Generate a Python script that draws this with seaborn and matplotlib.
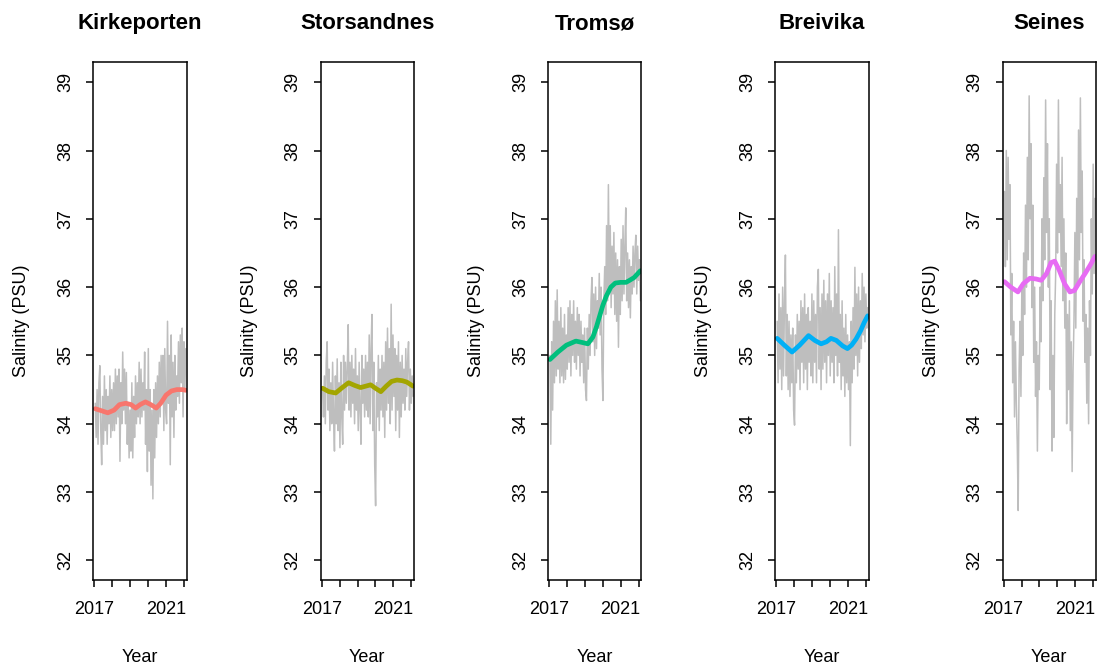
import numpy as np
import pandas as pd
import matplotlib
matplotlib.use("Agg")
import matplotlib.pyplot as plt
import seaborn as sns

# ---- data -------------------------------------------------------------
stations = ["Kirkeporten", "Storsandnes", "Tromsø", "Breivika", "Seines"]
colors = ["#F8766D", "#A3A500", "#00BF7D", "#00B0F6", "#E76BF3"]

# sampling dates (decimal years) of the raw salinity records
n_obs = 100
obs_years = np.linspace(2017.05, 2022.10, n_obs)

raw_kirkeporten = [
    34.3, 33.8, 34.5, 33.7, 34.6, 34.85, 33.9, 33.4, 34.4, 33.7,
    34.7, 33.9, 34.5, 33.7, 34.4, 34.0, 34.7, 33.8, 34.5, 33.9,
    34.6, 33.9, 34.8, 34.0, 34.7, 34.1, 34.8, 33.45, 34.6, 34.0,
    35.05, 34.2, 34.8, 34.0, 34.75, 33.7, 34.3, 33.5, 34.2, 33.6,
    34.6, 33.5, 34.4, 33.8, 34.7, 34.0, 34.6, 34.1, 34.9, 34.0,
    34.8, 34.1, 34.6, 34.2, 35.05, 33.7, 34.5, 33.3, 35.1, 33.6,
    34.5, 33.1, 34.2, 32.9, 34.5, 33.5, 34.6, 33.8, 34.7, 34.0,
    34.9, 34.1, 35.0, 34.3, 35.0, 33.9, 35.1, 34.2, 34.0, 35.5,
    34.3, 35.0, 33.4, 35.3, 34.1, 34.9, 33.8, 35.0, 34.2, 34.7,
    34.4, 35.2, 34.3, 35.3, 34.6, 35.4, 34.1, 35.2, 34.5, 35.1,
]
raw_storsandnes = [
    34.5, 34.1, 34.7, 34.0, 34.9, 35.2, 34.2, 34.8, 33.9, 34.6,
    34.0, 34.9, 34.1, 33.6, 34.7, 34.0, 34.95, 33.9, 34.6, 33.65,
    34.9, 34.1, 33.7, 35.0, 34.2, 34.9, 34.3, 34.8, 35.45, 34.2,
    34.9, 34.1, 35.0, 34.3, 34.8, 34.0, 35.1, 34.2, 34.7, 33.9,
    34.9, 34.2, 33.7, 35.0, 34.3, 34.8, 34.1, 35.0, 34.2, 34.9,
    34.1, 35.3, 34.0, 35.1, 35.6, 33.9, 34.9, 33.4, 32.8, 34.6,
    34.1, 35.0, 33.9, 34.8, 34.2, 35.0, 34.1, 34.9, 33.8, 35.2,
    34.2, 35.4, 34.3, 35.1, 34.0, 35.75, 34.2, 35.3, 34.4, 35.1,
    33.9, 35.0, 34.2, 35.2, 33.8, 34.9, 34.1, 35.0, 34.3, 34.8,
    34.2, 35.1, 34.4, 34.9, 35.2, 34.2, 34.8, 34.3, 34.7, 34.4,
]
raw_tromso = [
    35.0, 33.7, 35.2, 34.2, 35.5, 34.6, 35.8, 34.7, 35.96, 34.8,
    35.5, 34.6, 35.7, 34.7, 35.4, 34.6, 35.6, 34.65, 35.3, 34.8,
    35.7, 34.9, 35.8, 34.7, 35.6, 35.0, 35.8, 34.9, 35.5, 34.8,
    35.7, 35.0, 35.6, 34.7, 35.5, 34.9, 35.3, 34.6, 35.4, 34.5,
    34.34, 35.4, 34.8, 35.6, 35.0, 35.8, 36.14, 35.2, 35.9, 35.0,
    36.0, 35.1, 35.8, 35.4, 36.2, 35.3, 36.0, 34.8, 34.34, 35.8,
    36.3, 35.6, 36.9, 35.8, 37.5, 36.0, 36.9, 35.7, 36.6, 35.9,
    36.8, 35.6, 36.5, 35.5, 36.4, 35.12, 36.3, 35.6, 36.7, 35.8,
    36.9, 35.9, 36.6, 37.16, 35.8, 36.5, 35.7, 36.4, 35.55, 36.3,
    35.9, 36.6, 36.0, 36.5, 36.76, 35.9, 36.6, 36.1, 36.4, 35.8,
]
raw_breivika = [
    35.5, 34.6, 35.9, 34.8, 35.7, 34.5, 36.0, 34.7, 35.8, 36.47,
    34.7, 35.6, 34.5, 35.5, 34.4, 35.3, 34.6, 35.4, 34.2, 33.98,
    35.3, 34.6, 35.6, 34.8, 35.5, 34.5, 35.8, 34.9, 35.7, 34.6,
    35.9, 34.8, 35.6, 34.5, 35.7, 34.9, 35.5, 34.7, 35.9, 34.6,
    35.8, 34.9, 35.6, 34.6, 36.0, 36.26, 34.8, 35.7, 34.5, 35.9,
    34.8, 36.1, 34.9, 35.8, 34.6, 35.9, 35.0, 36.2, 34.7, 35.8,
    34.9, 35.7, 34.6, 36.3, 35.0, 35.9, 34.7, 36.84, 34.9, 35.6,
    34.5, 35.8, 34.7, 35.4, 34.4, 35.6, 34.6, 35.3, 34.5, 35.2,
    33.68, 35.5, 34.6, 35.7, 34.8, 36.29, 35.0, 35.9, 34.7, 36.0,
    34.9, 35.8, 35.1, 36.2, 35.3, 36.0, 35.2, 35.9, 35.4, 35.7,
]
raw_seines = [
    37.4, 36.3, 38.0, 36.4, 37.9, 36.7, 37.5, 35.3, 36.2, 34.6,
    35.5, 34.1, 35.2, 34.3, 33.7, 32.73, 34.8, 35.5, 34.4, 36.0,
    35.0, 36.5, 35.6, 37.2, 36.0, 37.9, 36.4, 38.8, 37.0, 38.1,
    35.7, 37.2, 34.9, 36.0, 34.4, 35.2, 33.6, 35.0, 34.5, 36.0,
    35.2, 37.0, 35.8, 37.6, 36.4, 38.74, 36.8, 38.1, 36.0, 37.0,
    34.5, 35.8, 33.6, 35.0, 33.8, 35.6, 36.2, 37.8, 36.5, 38.74,
    36.8, 37.5, 36.3, 37.9, 35.8, 37.0, 35.4, 36.5, 34.0, 35.6,
    34.5, 35.8, 33.9, 35.2, 33.3, 34.8, 35.5, 36.8, 35.4, 37.3,
    36.0, 38.3, 36.4, 38.77, 36.8, 37.7, 35.5, 36.4, 34.9, 35.6,
    34.3, 35.4, 34.0, 35.8, 35.0, 37.0, 35.9, 37.8, 36.2, 37.3,
]

# smoothed trend curves (decimal year, salinity)
trend_kirkeporten_x = [2017.05, 2017.4, 2017.75, 2018.1, 2018.4, 2018.75, 2019.05, 2019.3, 2019.55,
                       2019.85, 2020.15, 2020.45, 2020.7, 2021.0, 2021.3, 2021.6, 2021.9, 2022.1]
trend_kirkeporten_y = [34.22, 34.19, 34.16, 34.2, 34.28, 34.3, 34.28, 34.23, 34.28,
                       34.32, 34.28, 34.23, 34.3, 34.42, 34.48, 34.5, 34.5, 34.49]
trend_storsandnes_x = [2017.05, 2017.4, 2017.78, 2018.15, 2018.5, 2018.85, 2019.17, 2019.45, 2019.73,
                       2020.0, 2020.3, 2020.6, 2020.9, 2021.2, 2021.5, 2021.75, 2022.1]
trend_storsandnes_y = [34.52, 34.47, 34.45, 34.53, 34.6, 34.56, 34.53, 34.55, 34.57,
                       34.52, 34.47, 34.55, 34.62, 34.64, 34.63, 34.61, 34.55]
trend_tromso_x = [2017.05, 2017.5, 2017.97, 2018.5, 2018.85, 2019.17, 2019.45, 2019.65, 2019.83,
                  2020.0, 2020.2, 2020.45, 2020.7, 2021.0, 2021.3, 2021.5, 2021.75, 2022.1]
trend_tromso_y = [34.94, 35.05, 35.15, 35.21, 35.19, 35.17, 35.27, 35.42, 35.58,
                  35.73, 35.87, 36.0, 36.06, 36.07, 36.07, 36.1, 36.14, 36.24]
trend_breivika_x = [2017.05, 2017.45, 2017.88, 2018.3, 2018.8, 2019.15, 2019.5, 2019.8, 2020.05,
                    2020.35, 2020.7, 2020.97, 2021.2, 2021.45, 2021.7, 2021.9, 2022.1]
trend_breivika_y = [35.25, 35.15, 35.05, 35.15, 35.29, 35.22, 35.17, 35.2, 35.25,
                    35.22, 35.14, 35.10, 35.15, 35.24, 35.36, 35.48, 35.58]
trend_seines_x = [2017.05, 2017.4, 2017.8, 2018.1, 2018.47, 2018.8, 2019.1, 2019.4, 2019.65,
                  2019.85, 2020.1, 2020.4, 2020.7, 2020.95, 2021.25, 2021.55, 2021.85, 2022.1]
trend_seines_y = [36.08, 36.0, 35.93, 36.05, 36.13, 36.12, 36.1, 36.2, 36.36,
                  36.38, 36.25, 36.05, 35.93, 35.95, 36.08, 36.2, 36.33, 36.45]

year_ticks = [2017, 2018, 2019, 2020, 2021, 2022]
year_tick_labels = ["2017", "", "", "", "2021", ""]
salinity_ticks = [32, 33, 34, 35, 36, 37, 38, 39]

raw_series = [raw_kirkeporten, raw_storsandnes, raw_tromso, raw_breivika, raw_seines]
trend_series = [
    (trend_kirkeporten_x, trend_kirkeporten_y),
    (trend_storsandnes_x, trend_storsandnes_y),
    (trend_tromso_x, trend_tromso_y),
    (trend_breivika_x, trend_breivika_y),
    (trend_seines_x, trend_seines_y),
]

raw_df = pd.concat(
    [pd.DataFrame({"station": s, "year": obs_years, "salinity": v})
     for s, v in zip(stations, raw_series)],
    ignore_index=True,
)
trend_df = pd.concat(
    [pd.DataFrame({"station": s, "year": tx, "salinity": ty})
     for s, (tx, ty) in zip(stations, trend_series)],
    ignore_index=True,
)

# ---- figure -----------------------------------------------------------
sns.set_style("white")
plt.rcParams["font.family"] = ["Liberation Sans", "DejaVu Sans"]
plt.rcParams["text.color"] = "black"
plt.rcParams["axes.labelcolor"] = "black"
plt.rcParams["xtick.color"] = "black"
plt.rcParams["ytick.color"] = "black"

W, H = 1098, 666
fig = plt.figure(figsize=(W / 100, H / 100), dpi=100)

box_w = 93.4
box_top, box_bot = 61.7, 579.5
for k, (station, col) in enumerate(zip(stations, colors)):
    left = 93.3 + k * 227.3
    ax = fig.add_axes([left / W, 1 - box_bot / H, box_w / W, (box_bot - box_top) / H])

    sub_raw = raw_df[raw_df.station == station]
    sub_trend = trend_df[trend_df.station == station]
    sns.lineplot(data=sub_raw, x="year", y="salinity", color="#BEBEBE",
                 linewidth=1.1, sort=False, estimator=None, ax=ax)
    sns.lineplot(data=sub_trend, x="year", y="salinity", color=col,
                 linewidth=3.4, sort=False, estimator=None, ax=ax,
                 solid_capstyle="round", solid_joinstyle="round")

    ax.set_xlim(2016.94, 2022.15)
    ax.set_ylim(31.72, 39.30)
    ax.set_xticks(year_ticks)
    ax.set_xticklabels(year_tick_labels)
    ax.set_yticks(salinity_ticks)
    ax.set_yticklabels([str(t) for t in salinity_ticks], rotation=90, va="center")

    for sp in ax.spines.values():
        sp.set_visible(True)
        sp.set_color("black")
        sp.set_linewidth(1.1)
    ax.tick_params(axis="both", which="both", direction="out", length=5.2,
                   width=1.1, color="black", labelsize=13, labelcolor="black")
    ax.tick_params(axis="x", pad=10.5, bottom=True)
    ax.tick_params(axis="y", pad=8.5, left=True)

    ax.set_xlabel("Year", fontsize=13, color="black")
    ax.set_ylabel("Salinity (PSU)", fontsize=13, color="black")
    ax.xaxis.set_label_coords(0.5, -(662 - box_bot) / (box_bot - box_top))
    ax.xaxis.label.set_va("baseline")
    ax.yaxis.set_label_coords((22 - 93.3) / box_w, 0.5)
    ax.yaxis.label.set_va("center")

    ax.text(0.5, 1 + (box_top - 29) / (box_bot - box_top), station,
            transform=ax.transAxes, ha="center", va="baseline",
            fontsize=16, fontweight="bold", color="black")

fig.savefig("out.png", dpi=100)
